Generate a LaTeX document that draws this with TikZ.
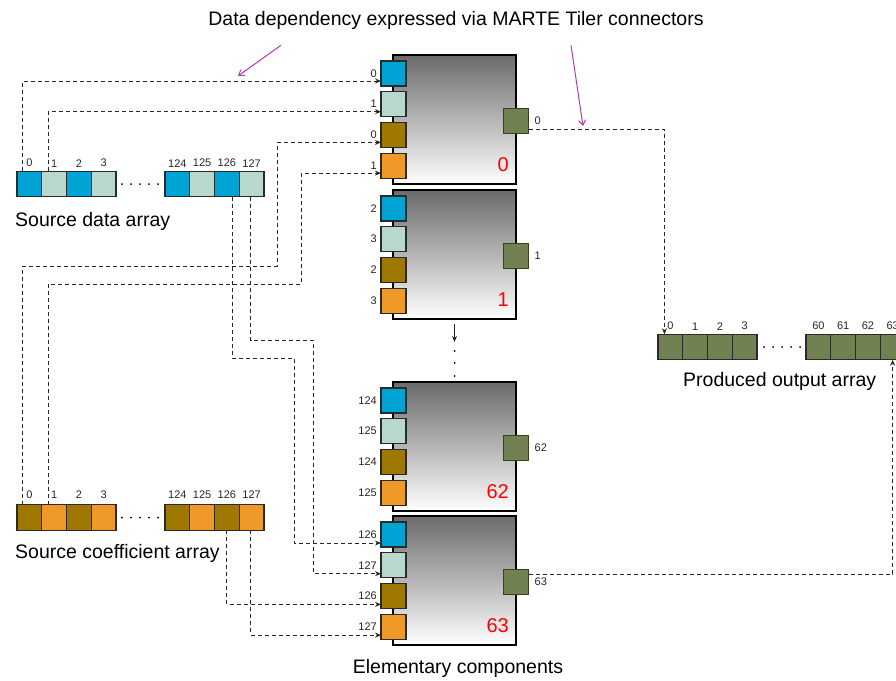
\documentclass[tikz,border=0pt]{standalone}
\usepackage{fontspec}
\setmainfont{Liberation Sans}
\usetikzlibrary{arrows.meta}
\definecolor{mtCyan}{HTML}{00A4D4}
\definecolor{mtMint}{HTML}{B8D7CD}
\definecolor{mtOchre}{HTML}{9E7800}
\definecolor{mtOrange}{HTML}{F0992B}
\definecolor{mtOlive}{HTML}{728152}
\definecolor{mtOliveEdge}{HTML}{34421E}
\definecolor{mtEdge}{HTML}{2A2A2A}
\definecolor{mtMagenta}{HTML}{B23CB5}

\begin{document}
\begin{tikzpicture}[x=1pt,y=-1pt,
  big/.style={font=\fontsize{19.5}{22}\selectfont, inner sep=0pt},
  idx/.style={font=\fontsize{11}{12}\selectfont, inner sep=1pt, text=black!85},
  cell/.style={draw=mtEdge, line width=1.1pt, minimum width=24.75pt,
               minimum height=25.5pt, inner sep=0pt, outer sep=0pt},
  port/.style={draw=mtEdge, line width=1.1pt, minimum size=25pt,
               inner sep=0pt, outer sep=0pt},
  comp/.style={draw=black, line width=1.4pt, minimum width=123pt,
               minimum height=129pt, inner sep=0pt,
               top color=black!58, bottom color=white},
  tagnum/.style={font=\fontsize{20}{22}\selectfont, text=red, anchor=base east, inner sep=0pt},
  dep/.style={dash pattern=on 4pt off 3pt, line width=1pt, black!85,
              -{Stealth[length=6pt,width=5pt]}},
  arr/.style={line width=1pt, black!85, -{Stealth[length=6pt,width=5pt]}},
  note/.style={line width=1pt, mtMagenta, -{Straight Barb[length=5pt,width=7pt]}}
]
  \useasboundingbox (0,0) rectangle (896,680);

  % source arrays
  \foreach \i in {0,1,2,3,124,125,126,127}{
    \pgfmathsetmacro\cx{\i<4 ? 29.4+24.75*\i : 177.4+24.75*(\i-124)}
    \ifodd\i \def\fa{mtMint}\def\fb{mtOrange}\else \def\fa{mtCyan}\def\fb{mtOchre}\fi
    \node[cell, fill=\fa, label={[idx,label distance=3pt]above:\i}] (d\i) at (\cx,184) {};
    \node[cell, fill=\fb, label={[idx,label distance=5pt]above:\i}] (c\i) at (\cx,517.5) {};
  }
  \foreach \x in {122,131,140,149,158}{
    \fill (\x,184) circle (1pt);
    \fill (\x,517.5) circle (1pt);
  }
  \node[big, anchor=west] (srcd) at (15,221) {Source data array};
  \node[big, anchor=west] (srcc) at (15,553) {Source coefficient array};

  % produced array
  \foreach \i in {0,1,2,3,60,61,62,63}{
    \pgfmathsetmacro\cx{\i<4 ? 670.4+24.75*\i : 818.4+24.75*(\i-60)}
    \node[cell, fill=mtOlive, label={[idx,label distance=3pt]above:\i}] (o\i) at (\cx,347) {};
  }
  \foreach \x in {764,773,782,791,800}
    \fill (\x,347) circle (1pt);
  \node[big, anchor=west] (outl) at (683,381) {Produced output array};

  % elementary components
  \foreach \n/\t/\a/\b in {0/55/0/1,1/190/2/3,62/382/124/125,63/516/126/127}{
    \node[comp] (e\n) at (454.5,\t+64.5) {};
    \foreach \k/\col/\lab in {1/mtCyan/\a,2/mtMint/\b,3/mtOchre/\a,4/mtOrange/\b}
      \node[port, fill=\col, label={[idx,label distance=3pt]left:\lab}]
        (b\n-\k) at (393.5,\t+18.5+30.7*\k-30.7) {};
    \node[port, fill=mtOlive, draw=mtOliveEdge,
          label={[idx,label distance=5pt]right:\n}] (q\n) at (516,\t+66) {};
    \node[tagnum] (r\n) at (509,\t+116) {\n};
  }
  \coordinate (gap) at (454.5,342);
  \draw[arr] ([yshift=-4pt]e1.south) -- (gap);
  \foreach \y in {351,363,376}
    \fill (454.5,\y) circle (1pt);
  \node[big] (elem) at (458,668) {Elementary components};

  % tiler connectors
  \draw[dep] ([xshift=-6.5pt]d0.north) |- ([yshift=-7.5pt]b0-1.west);
  \draw[dep] ([xshift=-6pt]d1.north) |- ([yshift=-7.5pt]b0-2.west);
  \draw[dep] ([xshift=-6.5pt]c0.north) |- (277,266) |- ([yshift=-7.5pt]b0-3.west);
  \draw[dep] ([xshift=-6pt]c1.north) |- (301,284) |- ([yshift=-7.5pt]b0-4.west);
  \draw[dep] ([xshift=5.5pt]d126.south) |- (294,358) |- ([yshift=-8.5pt]b63-1.west);
  \draw[dep] ([xshift=-1pt]d127.south) |- (313,340) |- ([yshift=-8.5pt]b63-2.west);
  \draw[dep] (c126.south) |- ([yshift=-8.5pt]b63-3.west);
  \draw[dep] ([xshift=-1pt]c127.south) |- ([yshift=-8.5pt]b63-4.west);
  \draw[dep] ([yshift=-8.5pt]q0.east) -| ([xshift=-6pt]o0.north);
  \draw[dep] ([yshift=8pt]q63.east) -| (o63.south);

  % caption
  \node[big] (title) at (456,20) {Data dependency expressed via MARTE Tiler connectors};
  \coordinate (n1) at (238,76);
  \coordinate (n2) at (583,126);
  \draw[note] ([xshift=-175pt,yshift=-16pt]title.south) -- (n1);
  \draw[note] ([xshift=115pt,yshift=-16pt]title.south) -- (n2);
\end{tikzpicture}
\end{document}
